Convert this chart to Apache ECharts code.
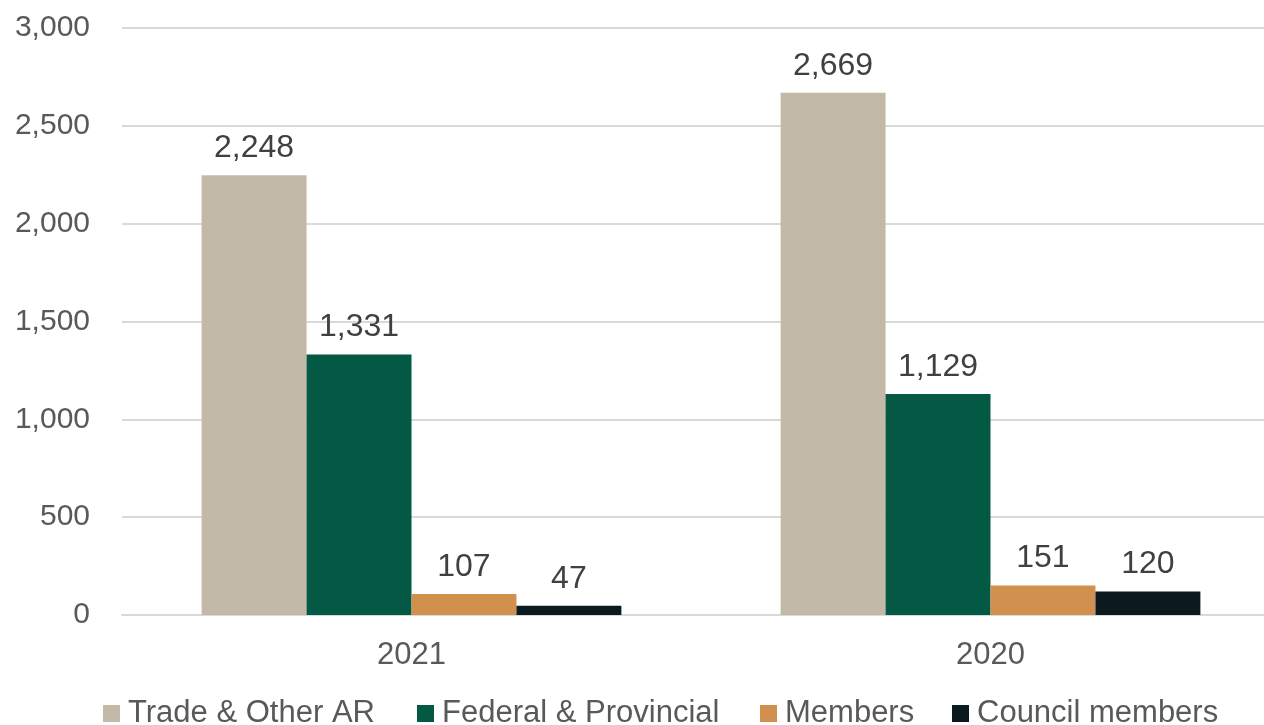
<!DOCTYPE html>
<html>
<head>
<meta charset="utf-8">
<title>AR chart</title>
<script src="https://cdn.jsdelivr.net/npm/echarts@6/dist/echarts.min.js"></script>
<style>
  html, body { margin: 0; padding: 0; background: #fff; overflow: hidden; }
  /* plot area runs a little past the right edge of the picture */
  #chart { width: 1280px; height: 725px; }
</style>
</head>
<body>
<div id="chart"></div>
<script>
// data
var years = ['2021', '2020'];
var seriesNames = ['Trade & Other AR', 'Federal & Provincial', 'Members', 'Council members'];
var tradeAR = [2248, 2669];
var federal = [1331, 1129];
var members = [107, 151];
var council = [47, 120];
var colors = ['#C2B9A7', '#045944', '#D1904D', '#0A1A1F'];

var myChart = echarts.init(document.getElementById('chart'));
var font = 'Liberation Sans, Arial, sans-serif';

function barSeries(name, data, color) {
    return {
        name: name,
        type: 'bar',
        data: data,
        barGap: 0,
        barCategoryGap: '27.5%',
        itemStyle: { color: color },
        label: {
            show: true,
            position: 'top',
            distance: 11,
            color: '#404040',
            fontSize: 32,
            fontFamily: font,
            formatter: function (p) { return p.value.toLocaleString('en-US'); }
        }
    };
}

// one legend per item so each sits where it does in the picture
var legendLeft = [98, 412, 755, 947];
var legends = seriesNames.map(function (n, i) {
    return {
        top: 693,
        left: legendLeft[i],
        itemWidth: 17,
        itemHeight: 17,
        itemGap: 0,
        icon: 'rect',
        textStyle: { color: '#595959', fontSize: 31, fontFamily: font, padding: [0, 0, 0, 3] },
        data: [n]
    };
});

var option = {
    animation: false,
    color: colors,
    grid: { left: 122, right: 0, top: 28, height: 587 },
    legend: legends,
    xAxis: {
        type: 'category',
        data: years,
        axisLine: { lineStyle: { color: '#D9D9D9', width: 2 } },
        axisTick: { show: false },
        axisLabel: { color: '#595959', fontSize: 31, fontFamily: font, margin: 25 }
    },
    yAxis: {
        type: 'value',
        min: 0,
        max: 3000,
        interval: 500,
        axisLine: { show: false },
        axisTick: { show: false },
        splitLine: { lineStyle: { color: '#D9D9D9', width: 2 } },
        axisLabel: {
            color: '#595959', fontSize: 30, fontFamily: font, margin: 32,
            formatter: function (v) { return v.toLocaleString('en-US'); }
        }
    },
    series: [
        barSeries(seriesNames[0], tradeAR, colors[0]),
        barSeries(seriesNames[1], federal, colors[1]),
        barSeries(seriesNames[2], members, colors[2]),
        barSeries(seriesNames[3], council, colors[3])
    ]
};
myChart.setOption(option);
</script>
</body>
</html>
